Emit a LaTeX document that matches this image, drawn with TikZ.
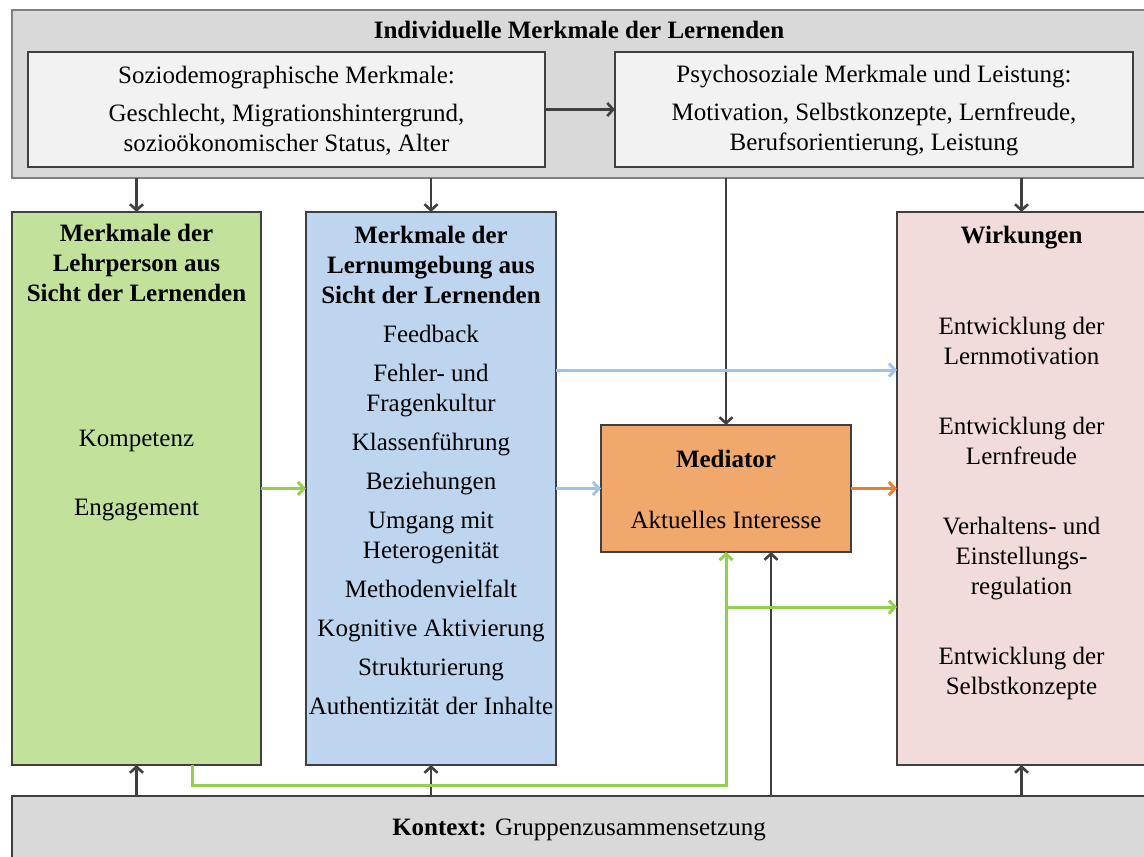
\documentclass[tikz,border=0pt]{standalone}
\usepackage{fontspec}
\setmainfont{Liberation Serif}
\usetikzlibrary{positioning, arrows.meta}
\definecolor{boxgray}{HTML}{D9D9D9}
\definecolor{innergray}{HTML}{F2F2F2}
\definecolor{lehrgreen}{HTML}{C2E29C}
\definecolor{umgblue}{HTML}{BDD5EE}
\definecolor{medorange}{HTML}{F0A86D}
\definecolor{wirkpink}{HTML}{F2DCDB}
\definecolor{arrowgray}{HTML}{404040}
\definecolor{arrowblue}{HTML}{9DC3E6}
\definecolor{arrowgreen}{HTML}{92D050}
\definecolor{arroworange}{HTML}{ED7D31}

\begin{document}
\begin{tikzpicture}[x=0.5pt, y=-0.5pt,
  >={Straight Barb[length=3pt, width=6.5pt]},
  every node/.style={font=\fontsize{12.5}{15}\selectfont},
  box/.style={draw=arrowgray, line width=0.7pt, inner sep=0pt, outer sep=0pt, anchor=north west},
  boxtext/.style={align=center, inner sep=0pt},
  darkline/.style={->, draw=arrowgray, line width=1.3pt},
  blueline/.style={->, draw=arrowblue, line width=1.5pt},
  greenline/.style={->, draw=arrowgreen, line width=1.5pt},
  orangeline/.style={->, draw=arroworange, line width=1.5pt}]
\useasboundingbox (0,0) rectangle (1144,856);
% boxes %
\node[box, draw=gray, fill=boxgray, minimum width=567pt, minimum height=84pt] (indiv) at (12,10) {};
\node[box, fill=innergray, minimum width=258.5pt, minimum height=57.5pt] (sozio) at (28,52) {};
\node[box, fill=innergray, minimum width=259pt, minimum height=57.5pt] (psycho) at (615,52) {};
\node[box, fill=lehrgreen, minimum width=124.5pt, minimum height=276.5pt] (lehr) at (12,212) {};
\node[box, fill=umgblue, minimum width=125pt, minimum height=276.5pt] (umg) at (306,212) {};
\node[box, fill=medorange, minimum width=125pt, minimum height=63.5pt] (med) at (601,425) {};
\node[box, fill=wirkpink, minimum width=124.5pt, minimum height=276.5pt] (wirk) at (897,212) {};
\node[box, fill=boxgray, minimum width=567pt, minimum height=40pt] (kontext) at (12,796) {};
% texts %
\node[boxtext, font=\fontsize{12.5}{15}\selectfont\bfseries, below=5.5pt of indiv.north] (indivtitle) {Individuelle Merkmale der Lernenden};
\node[boxtext] (soziotext) at ([yshift=-0.5pt]sozio.center) {Soziodemographische Merkmale:\\[4pt] Geschlecht, Migrationshintergrund,\\ sozioökonomischer Status, Alter};
\node[boxtext] (psychotext) at ([yshift=-0.5pt]psycho.center) {Psychosoziale Merkmale und Leistung:\\[4pt] Motivation, Selbstkonzepte, Lernfreude,\\ Berufsorientierung, Leistung};
\node[boxtext, font=\fontsize{12.5}{15}\selectfont\bfseries, below=6pt of lehr.north] (lehrtitle) {Merkmale der\\ Lehrperson aus\\ Sicht der Lernenden};
\node[boxtext] (lehrtext) at ([yshift=6.5pt]lehr.center) {Kompetenz\\[19.5pt] Engagement};
\node[boxtext, below=7pt of umg.north] (umgtext) {\textbf{Merkmale der}\\ \textbf{Lernumgebung aus}\\ \textbf{Sicht der Lernenden}\\[4.5pt]
  Feedback\\[4.5pt] Fehler- und\\ Fragenkultur\\[4.5pt] Klassenführung\\[4.5pt] Beziehungen\\[4.5pt]
  Umgang mit\\ Heterogenität\\[4.5pt] Methodenvielfalt\\[4.5pt] Kognitive Aktivierung\\[4.5pt]
  Strukturierung\\[4.5pt] Authentizität der Inhalte};
\node[boxtext] (medtext) at ([yshift=-0.5pt]med.center) {\textbf{Mediator}\\[15.5pt] Aktuelles Interesse};
\node[boxtext, font=\fontsize{12.5}{15}\selectfont\bfseries, below=7pt of wirk.north] (wirktitle) {Wirkungen};
\node[boxtext] (wirktext) at ([yshift=-10pt]wirk.center) {Entwicklung der\\ Lernmotivation\\[20pt] Entwicklung der\\ Lernfreude\\[20pt]
  Verhaltens- und\\ Einstellungs-\\ regulation\\[20pt] Entwicklung der\\ Selbstkonzepte};
\node[boxtext] (kontexttext) at ([yshift=-17pt]kontext.north) {\textbf{Kontext:} Gruppenzusammensetzung};
% edges %
\coordinate (medin) at (771,0);
\coordinate (split) at (726,607);
\draw[darkline] (sozio.east) -- (psycho.west);
\draw[darkline] (indiv.south -| lehr.north) -- (lehr.north);
\draw[darkline] (indiv.south -| umg.north) -- (umg.north);
\draw[darkline] (indiv.south -| med.north) -- (med.north);
\draw[darkline] (indiv.south -| wirk.north) -- (wirk.north);
\draw[darkline] (kontext.north -| lehr.south) -- (lehr.south);
\draw[darkline] (kontext.north -| umg.south) -- (umg.south);
\draw[darkline] (kontext.north -| medin) -- (med.south -| medin);
\draw[darkline] (kontext.north -| wirk.south) -- (wirk.south);
\draw[greenline] (lehr.east |- med.west) -- (umg.west |- med.west);
\draw[greenline] (lehr.south -| 192,0) -- ++(0,20) -| (med.south);
\draw[greenline] (split) -- (wirk.west |- split);
\draw[blueline] (umg.east |- 0,370) -- (wirk.west |- 0,370);
\draw[blueline] (umg.east |- med.west) -- (med.west);
\draw[orangeline] (med.east) -- (wirk.west |- med.east);
\end{tikzpicture}
\end{document}
